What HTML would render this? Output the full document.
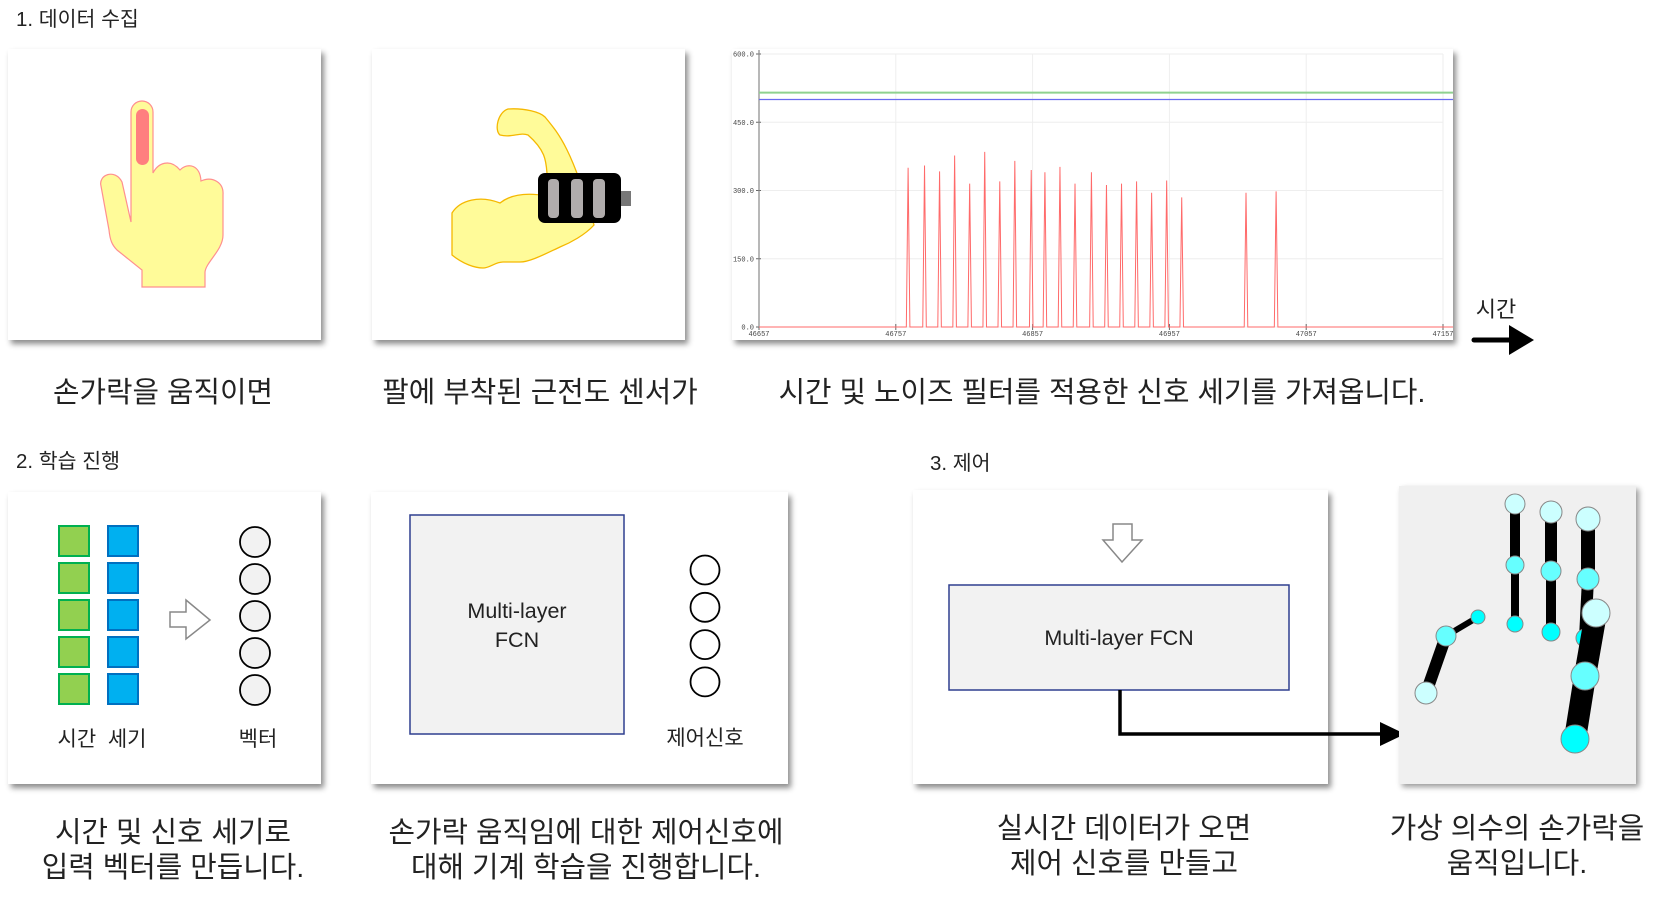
<!DOCTYPE html>
<html><head><meta charset="utf-8"><style>
html,body{margin:0;padding:0;background:#fff;}
svg{display:block;font-family:"Liberation Sans","Noto Sans CJK KR",sans-serif;}
.cap{font-size:28.8px;fill:#222;text-anchor:middle;}
.ttl{font-size:20.5px;fill:#222;}
.pnl{fill:#fff;filter:drop-shadow(3px 4px 3px rgba(0,0,0,0.45));}
</style></head><body>
<svg id="root" width="1662" height="901" viewBox="0 0 1662 901" xmlns="http://www.w3.org/2000/svg">
<!-- Section 1 -->
<text class="ttl" x="16" y="26">1. 데이터 수집</text>
<rect class="pnl" x="8" y="49" width="313" height="291"/>
<g>
<path d="M131,222 L131,112 A11,11 0 0 1 153,112 L153,173 C158,163 170,158 180,170 C188,162 200,165 201,181 C212,176 224,182 223,195 L223,235 C223,250 206,262 205,272 L205,287 L142,287 L142,270 L117,250 C112,245 110,240 109,230 L101,186 C98,175 115,168 122,182 Z" fill="#fffb99" stroke="#ff8f8f" stroke-width="1.2"/>
<rect x="136" y="109" width="13" height="56" rx="6.5" fill="#ff7f7f"/>
</g>
<rect class="pnl" x="372" y="49" width="313" height="291"/>
<g>
<path d="M452,213 C460,200 480,195 500,203 C510,195 525,192 547,196 L547,173 C546,160 545,150 528,135 C520,132 512,138 500,135 C494,130 498,112 508,109 C525,108 540,112 545,117 C560,135 572,150 594,225 C585,235 570,243 560,247 C545,254 530,262 520,262 L503,262 C495,262 490,268 483,268 C475,268 463,264 452,255 Z" fill="#fffb99" stroke="#f5b800" stroke-width="1.3"/>
<rect x="538" y="173" width="83" height="50" rx="7" fill="#000"/>
<rect x="548" y="179" width="11" height="39" rx="4" fill="#b0acac"/>
<rect x="571" y="179" width="12" height="39" rx="4" fill="#b0acac"/>
<rect x="593" y="179" width="12" height="39" rx="4" fill="#b0acac"/>
<rect x="621" y="191" width="10" height="15" fill="#777"/>
</g>
<rect class="pnl" x="732" y="49" width="721" height="291"/>
<g id="chart"></g>
<text x="1496" y="317" font-size="22" text-anchor="middle" fill="#222">시간</text>
<g>
<line x1="1474" y1="340" x2="1512" y2="340" stroke="#000" stroke-width="5" stroke-linecap="round"/>
<polygon points="1509,325 1534,340 1509,355" fill="#000"/>
</g>
<text class="cap" x="163" y="402">손가락을 움직이면</text>
<text class="cap" x="540" y="402">팔에 부착된 근전도 센서가</text>
<text class="cap" x="1102" y="402">시간 및 노이즈 필터를 적용한 신호 세기를 가져옵니다.</text>

<!-- Section 2 -->
<text class="ttl" x="16" y="468">2. 학습 진행</text>
<rect class="pnl" x="8" y="492" width="313" height="292"/>
<g id="cells"></g>
<polygon points="170,612 186,612 186,600 210,620 186,639 186,627 170,627" fill="#fff" stroke="#888" stroke-width="1.5"/>
<text x="102" y="746" font-size="21" text-anchor="middle" fill="#222">시간&#160;&#160;세기</text>
<text x="258" y="746" font-size="21" text-anchor="middle" fill="#222">벡터</text>

<rect class="pnl" x="371" y="492" width="417" height="292"/>
<rect x="410" y="515" width="214" height="219" fill="#f2f2f2" stroke="#2f3f8f" stroke-width="1.5"/>
<text x="517" y="618" font-size="21.5" text-anchor="middle" fill="#222">Multi-layer</text>
<text x="517" y="647" font-size="21.5" text-anchor="middle" fill="#222">FCN</text>
<g id="outcircles"></g>
<text x="705" y="745" font-size="21" text-anchor="middle" fill="#222">제어신호</text>
<text class="cap" x="173" y="842">시간 및 신호 세기로</text>
<text class="cap" x="173" y="877">입력 벡터를 만듭니다.</text>
<text class="cap" x="586" y="842">손가락 움직임에 대한 제어신호에</text>
<text class="cap" x="586" y="877">대해 기계 학습을 진행합니다.</text>

<!-- Section 3 -->
<text class="ttl" x="930" y="470">3. 제어</text>
<rect class="pnl" x="913" y="490" width="415" height="294"/>
<polygon points="1113,524 1132,524 1132,540 1142,540 1122,562 1103,540 1113,540" fill="#fff" stroke="#888" stroke-width="1.5"/>
<rect x="949" y="585" width="340" height="105" fill="#f2f2f2" stroke="#2f3f8f" stroke-width="1.5"/>
<text x="1119" y="645" font-size="21.5" text-anchor="middle" fill="#222">Multi-layer FCN</text>
<g>
<polyline points="1120,690 1120,734 1385,734" fill="none" stroke="#000" stroke-width="3.5"/>
<polygon points="1380,722 1405,734 1380,746" fill="#000"/>
</g>
<rect x="1399" y="486" width="237" height="298" fill="#f0f0f0" style="filter:drop-shadow(3px 3px 3px rgba(0,0,0,0.4))"/>
<g id="hand"></g>
<text class="cap" x="1124" y="838">실시간 데이터가 오면</text>
<text class="cap" x="1124" y="873">제어 신호를 만들고</text>
<text class="cap" x="1517" y="838">가상 의수의 손가락을</text>
<text class="cap" x="1517" y="873">움직입니다.</text>
</svg>
<script>
const NS='http://www.w3.org/2000/svg';
// chart data
const yTicks=[0,150,300,450,600];
const xTicks=[46657,46757,46857,46957,47057,47157];
const xTickLabels=['46657','46757','46857','46957','47057','47157'];
const greenLevel=[515];
const blueLevel=[500];
const spikeX=[46766,46778,46789,46800,46811,46822,46833,46844,46856,46866,46877,46888,46900,46911,46922,46933,46944,46955,46966,47013,47035];
const spikeY=[350,355,342,377,315,385,320,365,345,340,352,315,340,312,315,320,295,322,285,295,298];

const X0=759,X1=1443,Y0=327,Y1=54;
const xs=v=>X0+(v-46657)/(47157-46657)*(X1-X0);
const ys=v=>Y0-(v/600)*(Y0-Y1);
const chart=document.getElementById('chart');
function mk(tag,attrs,parent){const e=document.createElementNS(NS,tag);for(const k in attrs)e.setAttribute(k,attrs[k]);(parent||chart).appendChild(e);return e;}
yTicks.forEach(t=>{
  const g=mk('line',{x1:X0,x2:X1,y1:ys(t),y2:ys(t),stroke:'#eee','stroke-width':1});
  
  
  const tk=mk('line',{x1:X0-3,x2:X0+2,y1:ys(t),y2:ys(t),stroke:'#666'});
  
  
  const l=mk('text',{x:X0-5,y:ys(t)+2.5,'font-size':7,'text-anchor':'end',fill:'#444','font-family':'Liberation Mono, monospace'});
  l.textContent=t.toFixed(1);
  
  
});
xTicks.forEach((t,i)=>{
  const g=mk('line',{x1:xs(t),x2:xs(t),y1:Y1,y2:Y0,stroke:'#eee'});
  
  
  const tk=mk('line',{x1:xs(t),x2:xs(t),y1:Y0-3,y2:Y0+3,stroke:'#666'});
  
  
  const l=mk('text',{x:xs(t),y:Y0+9,'font-size':7,'text-anchor':'middle',fill:'#444','font-family':'Liberation Mono, monospace'});
  l.textContent=xTickLabels[i];
  
  
});
const ax=mk('line',{x1:X0,x2:X0,y1:Y1-4,y2:Y0,stroke:'#888','stroke-width':1.2});


const gl=mk('line',{x1:X0,x2:X1+10,y1:ys(greenLevel[0]),y2:ys(greenLevel[0]),stroke:'#8fd18f','stroke-width':2});


const bl=mk('line',{x1:X0,x2:X1+10,y1:ys(blueLevel[0]),y2:ys(blueLevel[0]),stroke:'#6a6af0','stroke-width':1.2});


let pts=[[X0,Y0]];
spikeX.forEach((x,i)=>{pts.push([xs(x-1.3),Y0],[xs(x),ys(spikeY[i])],[xs(x+1.3),Y0]);});
pts.push([X1+10,Y0]);
const rl=mk('polyline',{points:pts.map(p=>p.join(',')).join(' '),fill:'none',stroke:'#ff6a6a','stroke-width':1});



// input cells
const cells=document.getElementById('cells');
for(let i=0;i<5;i++){
  const y=526+i*37;
  const g=mk('rect',{x:59,y:y,width:30,height:30,fill:'#92d050',stroke:'#00b050','stroke-width':2},cells);
  
  
  const b=mk('rect',{x:108,y:y,width:30,height:30,fill:'#00b0f0',stroke:'#0070c0','stroke-width':2},cells);
  
  
  const c=mk('circle',{cx:255,cy:542+i*37,r:15,fill:'#f2f2f2',stroke:'#000','stroke-width':1.8},cells);
  
  
}
const oc=document.getElementById('outcircles');
for(let i=0;i<4;i++){
  const c=mk('circle',{cx:705,cy:570+i*37.3,r:14.5,fill:'#fff',stroke:'#000','stroke-width':1.8},oc);
  
  
}
// virtual hand
const hand=document.getElementById('hand');
const L='#ccffff',M='#66ffff',B='#00ffff';
const fingers=[
 {p:[[1426,693,11,L],[1446,636,10,M],[1478,617,7,B]],w:[12,6]},
 {p:[[1515,504,10,L],[1515,565,9,M],[1515,624,8,B]],w:[10,8]},
 {p:[[1551,512,11,L],[1551,571,10,M],[1551,632,9,B]],w:[12,10]},
 {p:[[1588,519,12,L],[1588,579,11,M],[1585,638,9,B]],w:[14,12]},
 {p:[[1596,613,14,L],[1585,676,14,M],[1575,739,14,B]],w:[22,22]}
];
fingers.forEach(f=>{
  for(let i=0;i<2;i++){
    const a=f.p[i],b=f.p[i+1];
    const s=mk('line',{x1:a[0],y1:a[1],x2:b[0],y2:b[1],stroke:'#000','stroke-width':f.w[i]},hand);
    
    
  }
  f.p.forEach(p=>{
    const c=mk('circle',{cx:p[0],cy:p[1],r:p[2],fill:p[3],stroke:'#888','stroke-width':1},hand);
    
    
  });
});
</script>
</body></html>
